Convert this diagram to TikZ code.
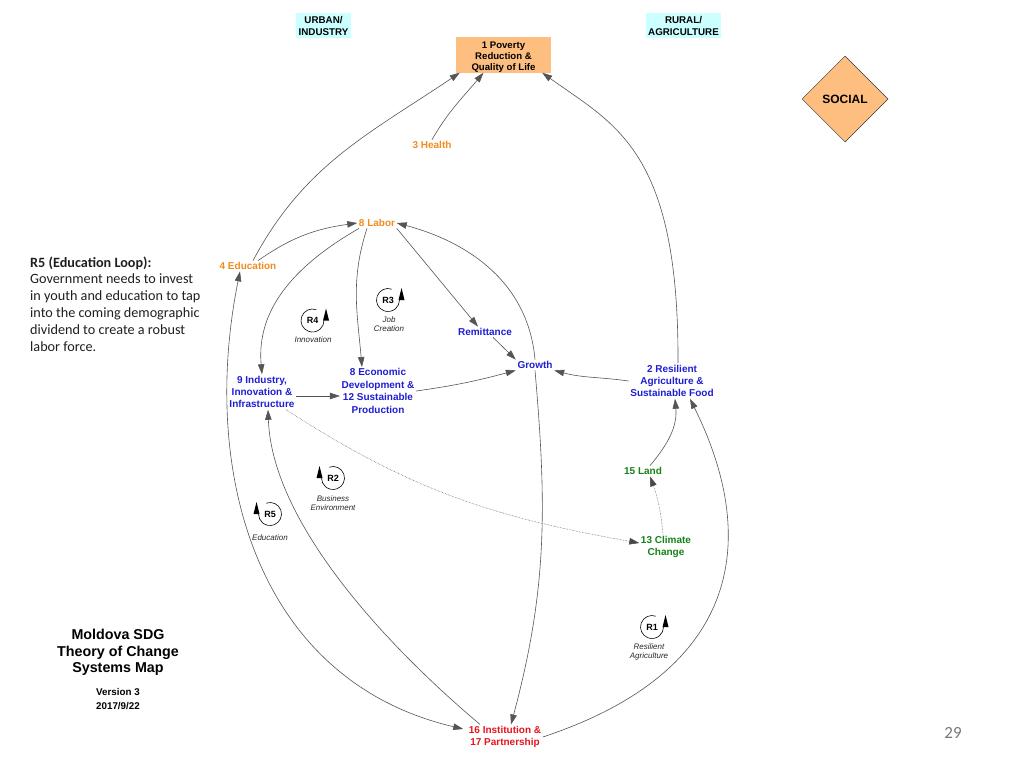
\documentclass[tikz,border=0pt]{standalone}
\usepackage{fontspec}
\setmainfont{Liberation Sans}
\newfontfamily\calibri{Carlito}
\usetikzlibrary{arrows.meta,shapes.geometric}
\definecolor{orangeT}{RGB}{240,140,30}
\definecolor{blueT}{RGB}{30,30,210}
\definecolor{greenT}{RGB}{20,130,20}
\definecolor{redT}{RGB}{230,20,30}
\definecolor{boxC}{RGB}{253,190,128}
\definecolor{cyanC}{RGB}{204,255,255}
\definecolor{edgeC}{RGB}{85,85,85}
\definecolor{pageC}{RGB}{120,120,120}
\tikzset{
  lbl/.style={font=\bfseries\fontsize{10}{12.4}\selectfont, align=center, inner sep=1.5pt},
  org/.style={lbl, text=orangeT},
  blu/.style={lbl, text=blueT},
  grn/.style={lbl, text=greenT},
  rd/.style={lbl, text=redT},
  cyanbox/.style={fill=cyanC, font=\bfseries\fontsize{9.8}{12}\selectfont, align=center, inner sep=1pt, minimum height=25},
  povbox/.style={fill=boxC, font=\bfseries\fontsize{9.6}{11}\selectfont, inner sep=1pt, minimum width=95, minimum height=34},
  tipT/.tip={Triangle[length=10pt,width=6.5pt]},
  edge/.style={draw=edgeC, line width=0.6pt, -tipT},
  edgetwo/.style={draw=edgeC, line width=0.6pt, tipT-tipT},
  dotedge/.style={draw=edgeC!85!black, line width=0.5pt, densely dotted, -{Triangle[length=10pt,width=6.5pt]}},
  loopname/.style={font=\bfseries\fontsize{9}{10}\selectfont, inner sep=0pt},
  loopcap/.style={font=\itshape\fontsize{8}{9.5}\selectfont, align=center, text=black!85, inner sep=0pt},
  loopcirc/.style={draw=black, line width=0.6pt},
}
\begin{document}
\begin{tikzpicture}[x=1pt,y=1pt]
\useasboundingbox (0,0) rectangle (1024,-768);

% header boxes
\node[cyanbox, minimum width=55] (urban) at (323.5,-25.5) {URBAN/\\INDUSTRY};
\node[cyanbox, minimum width=75] (rural) at (683.5,-25.5) {RURAL/\\AGRICULTURE};
\node[povbox] (pov) at (503.5,-55)
  {\raisebox{-2.5pt}[\height][\depth]{\begin{tabular}{@{}c@{}}1 Poverty\\Reduction \&\\Quality of Life\end{tabular}}};
\node[diamond, draw=black!80, line width=0.5pt, fill=boxC, minimum width=86, minimum height=86, inner sep=0pt,
      font=\bfseries\fontsize{12}{14}\selectfont] (social) at (845,-99) {SOCIAL};

% variables
\node[org] (health) at (432,-145) {3 Health};
\node[org] (labor) at (377,-223) {8 Labor};
\node[org] (edu) at (248,-266) {4 Education};
\node[blu] (remit) at (485,-332) {Remittance};
\node[blu] (growth) at (535,-365) {Growth};
\node[blu] (resil) at (672,-381) {2 Resilient\\Agriculture \&\\Sustainable Food};
\node[blu] (ind) at (262,-392) {9 Industry,\\Innovation \&\\Infrastructure};
\node[blu] (econ) at (378,-391) {8 Economic\\Development \&\\12 Sustainable\\Production};
\node[grn] (land) at (643,-471) {15 Land};
\node[grn] (climate) at (666,-547) {13 Climate\\Change};
\node[rd] (inst) at (505,-737) {16 Institution \&\\17 Partnership};

% loops (right-pointing arrow)
\begin{scope}[shift={(388,-300)}]
  \node[loopname] (r3) at (0,0) {R3};
  \draw[loopcirc] (70:11.5) arc[start angle=70, end angle=360, radius=11.5];
  \fill (13.5,12) -- (10.5,0) -- (16.5,0) -- cycle;
\end{scope}
\node[loopcap] (r3c) at (389,-324) {Job\\Creation};

\begin{scope}[shift={(312.5,-320.5)}]
  \node[loopname] (r4) at (0,0) {R4};
  \draw[loopcirc] (70:11.5) arc[start angle=70, end angle=360, radius=11.5];
  \fill (13.5,12) -- (10.5,0) -- (16.5,0) -- cycle;
\end{scope}
\node[loopcap] (r4c) at (313,-340) {Innovation};

\begin{scope}[shift={(652,-627)}]
  \node[loopname] (r1) at (0,0) {R1};
  \draw[loopcirc] (70:11.5) arc[start angle=70, end angle=360, radius=11.5];
  \fill (13.5,12) -- (10.5,0) -- (16.5,0) -- cycle;
\end{scope}
\node[loopcap] (r1c) at (649,-652) {Resilient\\Agriculture};

% loops (left-pointing arrow)
\begin{scope}[shift={(333,-478)}]
  \node[loopname] (r2) at (0,0) {R2};
  \draw[loopcirc] (110:11.5) arc[start angle=110, end angle=-180, radius=11.5];
  \fill (-13.5,12) -- (-10.5,0) -- (-16.5,0) -- cycle;
\end{scope}
\node[loopcap] (r2c) at (333,-503) {Business\\Environment};

\begin{scope}[shift={(270,-514)}]
  \node[loopname] (r5) at (0,0) {R5};
  \draw[loopcirc] (110:11.5) arc[start angle=110, end angle=-180, radius=11.5];
  \fill (-13.5,12) -- (-10.5,0) -- (-16.5,0) -- cycle;
\end{scope}
\node[loopcap] (r5c) at (270,-538) {Education};

% connectors
\draw[edge] ([xshift=5]edu.north) to[out=62,in=-146] ([xshift=4]pov.south west);
\draw[edge] (health.north) to[out=60,in=-130] ([xshift=-20]pov.south);
\draw[edge] ([xshift=6]resil.north) .. controls (679,-150) and (615,-125) .. ([xshift=-9]pov.south east);
\draw[edge] ([xshift=10]edu.north) to[out=35,in=188] (labor.west);
\draw[edge] ([xshift=-18]labor.south) to[out=-150,in=95] (ind.north);
\draw[edge] ([xshift=-10]labor.south) to[out=-108,in=95] ([xshift=-16]econ.north);
\draw[edge] (labor.south east) -- ([xshift=-7]remit.north);
\draw[edge] ([xshift=8]remit.south) -- (growth.north west);
\draw[edge] (econ.east) to[out=8,in=195] (growth.south west);
\draw[edge] (resil.west) to[out=172,in=-15] (growth.south east);
\draw[edge] ([yshift=-4]ind.east) -- ([yshift=-5]econ.west);
\draw[edge] (growth.north) to[out=95,in=-15] (labor.east);
\draw[edge] (growth.south) to[out=-85,in=75] ([xshift=6]inst.north);
\draw[edgetwo] ([xshift=-8]edu.south) .. controls (200,-470) and (255,-680) .. ([shift={(-4,8)}]inst.west);
\draw[edge] ([xshift=-25]inst.north) .. controls (380,-640) and (272,-520) .. ([xshift=6]ind.south);
\draw[dotedge] ([xshift=-10]ind.south east) to[out=-33,in=170] ([yshift=4]climate.west);
\draw[dotedge] ([xshift=-3]climate.north) to[out=95,in=-70] ([xshift=7]land.south);
\draw[edge] ([xshift=7]land.north) to[out=50,in=-85] ([xshift=3]resil.south);
\draw[edge] (inst.east) .. controls (745,-670) and (758,-536) .. ([xshift=18]resil.south);

% side texts
\node[anchor=base west, align=left, inner sep=0pt, text=black!88,
      font=\calibri\fontsize{14.2}{16.8}\selectfont] (note) at (30,-351)
  {\textbf{R5 (Education Loop):}\\Government needs to invest\\in youth and education to tap\\into the coming demographic\\dividend to create a robust\\labor force.};
\node[align=center, inner sep=0pt, font=\bfseries\fontsize{14.3}{16.5}\selectfont] (title) at (118,-652.5)
  {Moldova SDG\\Theory of Change\\Systems Map};
\node[align=center, inner sep=0pt, font=\bfseries\fontsize{9.8}{14}\selectfont] (version) at (118,-699)
  {Version 3\\2017/9/22};
\node[inner sep=0pt, text=pageC, font=\calibri\fontsize{17}{20}\selectfont] (page) at (953,-733) {29};
\end{tikzpicture}
\end{document}
